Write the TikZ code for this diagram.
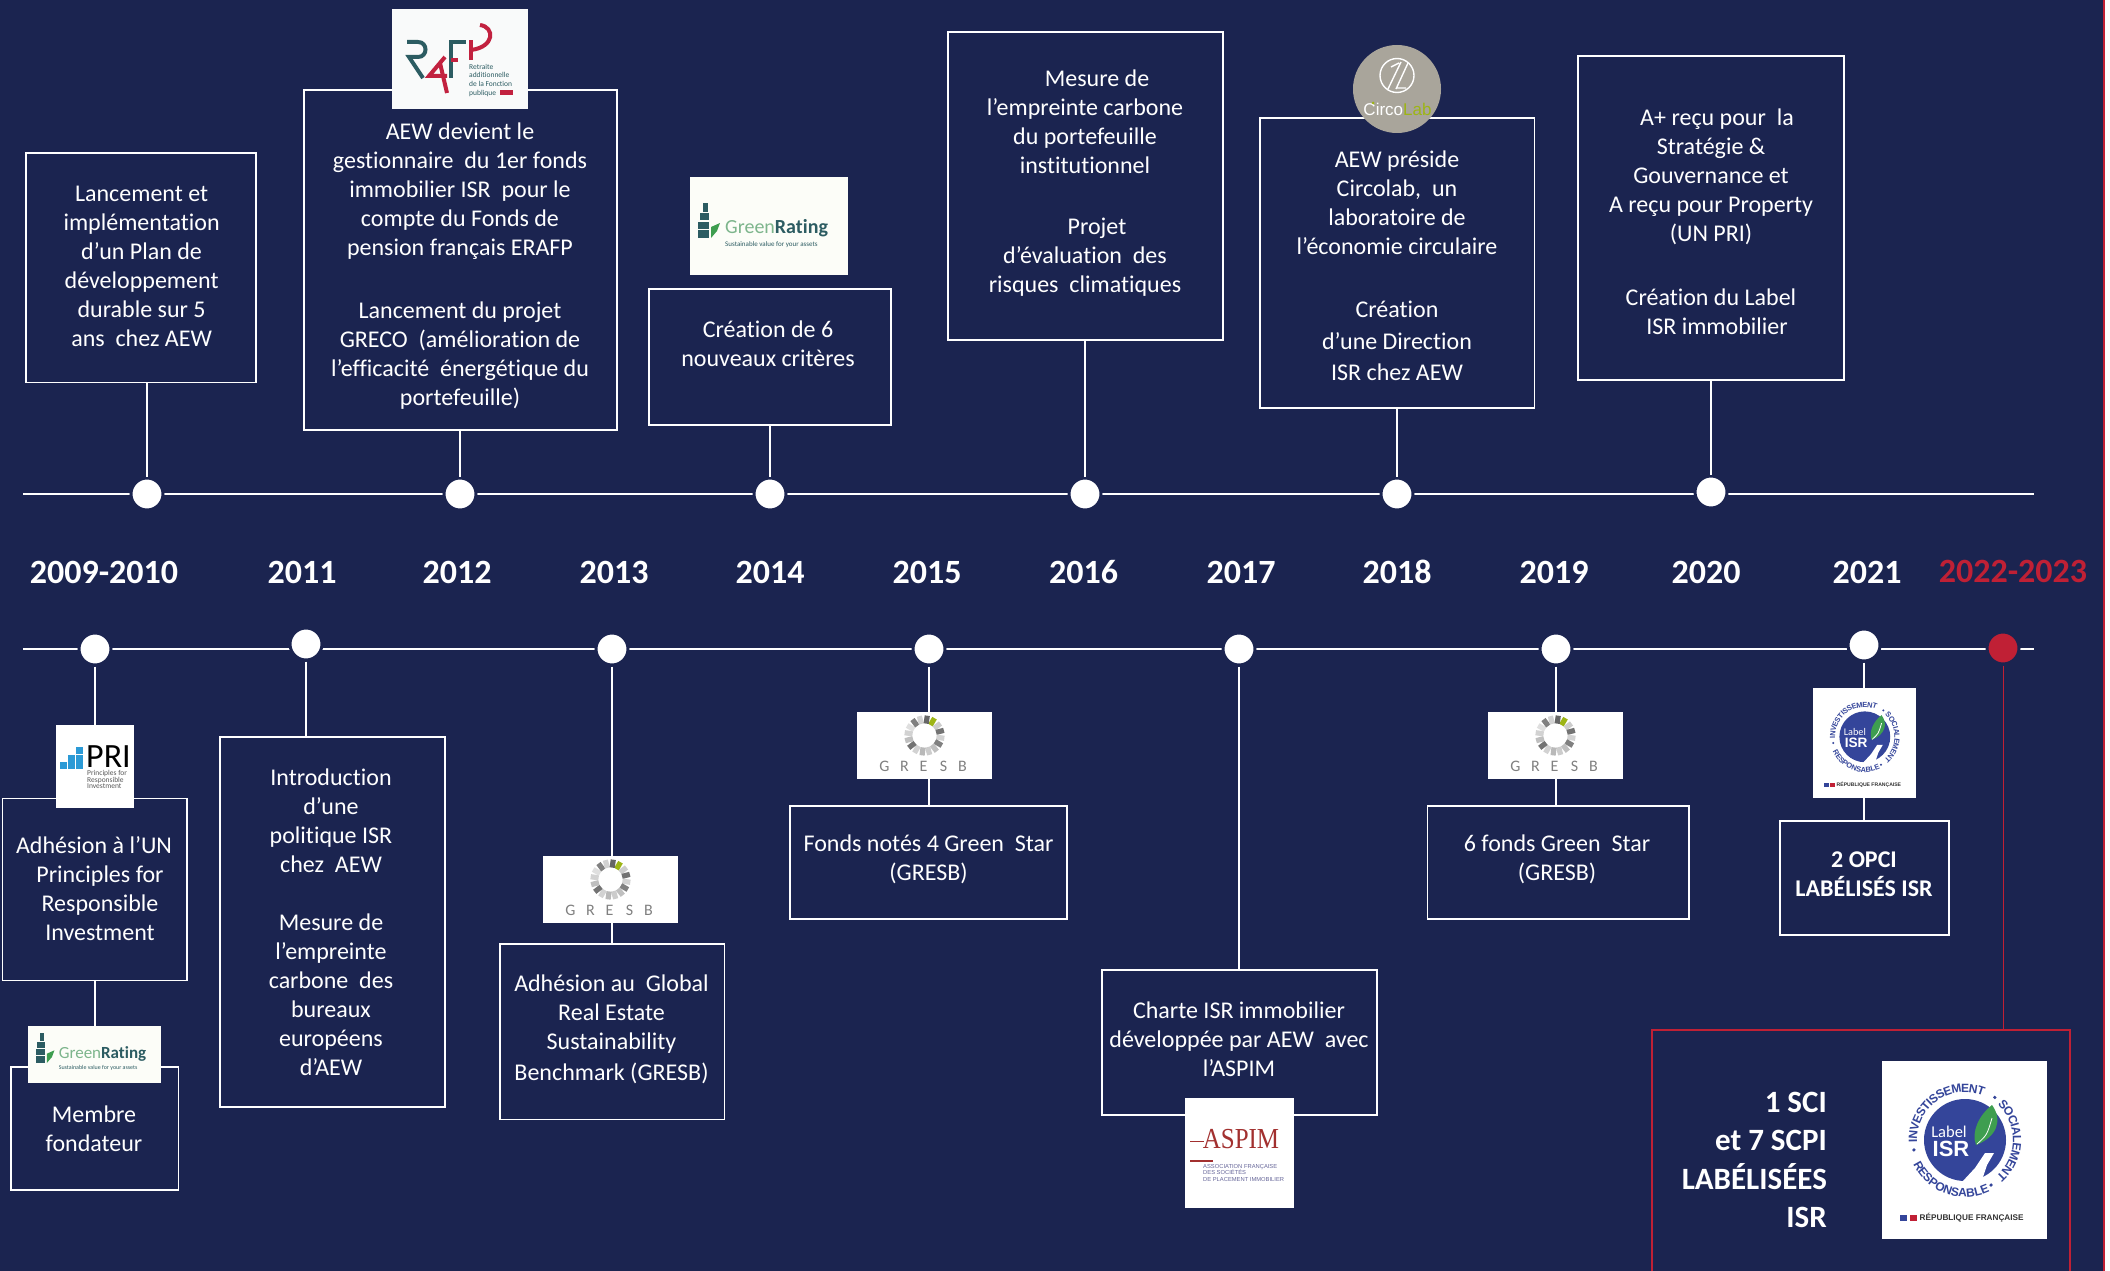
\documentclass[tikz,border=0pt]{standalone}
\usepackage{fontspec}
\setmainfont[Ligatures=CommonOff]{Carlito}
\newfontfamily\arialfont{Liberation Sans}
\newfontfamily\timesfont{Liberation Serif}
\definecolor{navy}{HTML}{1B2450}
\definecolor{crimson}{HTML}{C02035}
\definecolor{teal}{HTML}{2C5C62}
\definecolor{rafpred}{HTML}{C2213F}
\definecolor{leaf}{HTML}{7DB58C}
\definecolor{isrblue}{HTML}{34459A}
\definecolor{isrgreen}{HTML}{3E9E50}
\definecolor{lime}{HTML}{9DB516}
\definecolor{stone}{HTML}{A9A59B}
\definecolor{aspimred}{HTML}{A2302F}
\definecolor{priblue}{HTML}{2B9AD6}
\begin{document}
\begin{tikzpicture}[x=1pt,y=-1pt]
	\tikzset{infobox/.style = {draw=white,line width=1.5pt,inner sep=0pt}}
	\tikzset{boxtext/.style = {align=center,text=white,inner sep=0pt,font=\fontsize{24}{29}\selectfont}}
	\tikzset{boldtext/.style = {boxtext,font=\fontsize{24}{29}\selectfont\bfseries}}
	\tikzset{yearlabel/.style = {text=white,inner sep=0pt,font=\fontsize{34}{40}\selectfont\bfseries}}
	\tikzset{dot/.style = {shape=circle,fill=white,draw=navy,line width=3pt,inner sep=0pt,minimum size=32pt}}
	\tikzset{link/.style = {draw=white,line width=1.5pt}}
	\tikzset{logo/.style = {fill=white,inner sep=0pt}}
	\tikzset{isrletter/.style = {text=isrblue,inner sep=0pt,transform shape,font=\fontsize{12}{14}\selectfont\bfseries\arialfont}}
	\tikzset{gresb/.pic = {
		\foreach \ang/\shade in {60/lime,37/gray!40,15/black!55,-8/gray!35,-30/black!50,-52/gray!50,-75/gray!40,-97/gray!55,-120/gray!35,-142/black!55,-165/gray!50,172/gray!35,150/gray!25,127/black!50,105/gray!35,82/black!60}
			\draw[line width=5.2pt,\shade] ([shift={(0,-10)}]-\ang:12) -- ([shift={(0,-10)}]-\ang:20);
		\foreach \ch/\xp [count=\i] in {G/-40,R/-20,E/-1,S/19,B/38}
			\node[text=gray,inner sep=0pt,transform shape,font=\fontsize{16}{17}\selectfont] (gl\i) at (\xp,21) {\ch};
	}}
	\tikzset{greenrating/.pic = {
		\fill[teal] (-60,-22) rectangle (-55,-13);
		\fill[teal] (-63,-12) rectangle (-54,-5);
		\fill[teal] (-65,-3) rectangle (-54,4);
		\fill[teal] (-65,5) rectangle (-54,13);
		\fill[isrgreen] (-52,2) -- (-43,-2) -- (-46,6) -- (-52,13) -- cycle;
		\node[anchor=base west,inner sep=0pt,transform shape,font=\fontsize{20}{22}\selectfont] (grname) at (-38,8) {\textcolor{leaf}{Green}\textcolor{teal}{\bfseries Rating}};
		\node[anchor=base west,inner sep=0pt,transform shape,text=teal,font=\fontsize{7}{8}\selectfont] (grline) at (-38,21) {Sustainable value for your assets};
	}}
	\tikzset{isrlogo/.pic = {
		\begin{scope}[shift={(0.5,-10)}]
			\fill[isrblue] (0,0) circle (41);
			\fill[isrgreen] (27,-35) .. controls (38,-20) and (32,-3) .. (11,5) .. controls (6,-8) and (14,-25) .. (27,-35);
			\draw[white,line width=0.8pt] (12,4) .. controls (22,-5) .. (27,-22);
			\fill[white] (-3,42) -- (10,28) -- (20,13) -- (29,13) -- (22,25) -- (17,40) -- (8,43) -- cycle;
			\node[text=white,inner sep=0pt,transform shape,font=\fontsize{16.5}{18}\selectfont] (isrword) at (-16,-8) {Label};
			\node[text=white,inner sep=0pt,transform shape,font=\fontsize{22}{24}\selectfont\bfseries\arialfont] (isrname) at (-14,9) {ISR};
			\foreach \ch/\ang [count=\i] in {I/181.2,N/174.6,V/165.4,E/156.6,S/147.8,T/139.4,I/133.5,S/127.3,S/118.5,E/109.6,M/99.7,E/89.8,N/80.7,T/71.9}
				\node[isrletter,rotate=\ang-90] (la\i) at (-\ang:52) {\ch};
			\foreach \ch/\ang [count=\i] in {S/42.6,O/33.1,C/23.2,I/16.6,A/10,L/1.2,E/-7.3,M/-17.2,E/-27.1,N/-36.2,T/-45}
				\node[isrletter,rotate=\ang-90] (lb\i) at (-\ang:52) {\ch};
			\foreach \ch/\ang [count=\i] in {R/209.3,E/217.6,S/225.5,P/233.4,O/242,N/251,S/259.2,A/267.5,B/276,L/284,E/291.6}
				\node[isrletter,rotate=\ang+90] (lc\i) at (-\ang:53) {\ch};
			\foreach \ang in {55,-60,191}
				\fill[isrblue] (-\ang:52) circle (1.8);
		\end{scope}
		\fill[isrblue] (-65,65) rectangle (-58,71);
		\fill[crimson] (-55,65) rectangle (-48,71);
		\node[anchor=west,text=black!80,inner sep=0pt,transform shape,font=\fontsize{8.2}{10}\selectfont\bfseries\arialfont] (isrrep) at (-45,68) {RÉPUBLIQUE FRANÇAISE};
	}}

	\useasboundingbox (0,0) rectangle (2110,1271);
	\fill[navy] (0,0) rectangle (2103,1271);
	\fill[crimson] (2103,0) rectangle (2105,1271);
	\fill[white] (2105,0) rectangle (2110,1271);

	% the two time axes
	\coordinate (axisTopL) at (23,494);
	\coordinate (axisTopR) at (2034,494);
	\coordinate (axisLowL) at (23,649);
	\coordinate (axisLowR) at (2034,649);
	\draw[link] (axisTopL) -- (axisTopR);
	\draw[link] (axisLowL) -- (axisLowR);

	\foreach \yr/\xp/\yp in {2009/147/494,2012/460/494,2014/770/494,2016/1085/494,2018/1397/494,2020/1711/492}
		\node[dot] (top\yr) at (\xp,\yp) {};
	\foreach \yr/\xp/\yp in {2009/95/649,2011/306/644,2013/612/649,2015/929/649,2017/1239/649,2019/1556/649,2021/1864/645}
		\node[dot] (low\yr) at (\xp,\yp) {};
	\node[dot,fill=crimson] (low2022) at (2003,648) {};

	\foreach \yr/\xp in {2009-2010/104,2011/302,2012/457,2013/614,2014/770,2015/927,2016/1083.5,2017/1241,2018/1397,2019/1554,2020/1706,2021/1867}
		\node[yearlabel] (year\yr) at (\xp,572) {\yr};
	\node[yearlabel,text=crimson] (year2022) at (2013,571) {2022-2023};

	% boxes above the axis
	\node[infobox,minimum width=230pt,minimum height=229.5pt] (box2009) at (141,267.75) {};
	\node[infobox,minimum width=313pt,minimum height=340pt] (box2012) at (460.5,260) {};
	\node[infobox,minimum width=242pt,minimum height=136pt] (box2014) at (770,357) {};
	\node[infobox,minimum width=275pt,minimum height=308pt] (box2016) at (1085.5,186) {};
	\node[infobox,minimum width=274.5pt,minimum height=290pt] (box2018) at (1397,263) {};
	\node[infobox,minimum width=266pt,minimum height=324pt] (box2020) at (1711,218) {};

	% boxes below the axis
	\node[infobox,minimum width=184.5pt,minimum height=182pt] (boxPri) at (94.75,889.5) {};
	\node[infobox,minimum width=167.5pt,minimum height=123pt] (boxMember) at (94.75,1128.5) {};
	\node[infobox,minimum width=225pt,minimum height=370pt] (box2011) at (332.5,922) {};
	\node[infobox,minimum width=224.5pt,minimum height=175.5pt] (box2013) at (612,1031.5) {};
	\node[infobox,minimum width=277pt,minimum height=113pt] (box2015) at (928.5,862.5) {};
	\node[infobox,minimum width=275pt,minimum height=145pt] (box2017) at (1239.5,1042.5) {};
	\node[infobox,minimum width=261.5pt,minimum height=113pt] (box2019) at (1558,862.5) {};
	\node[infobox,minimum width=169pt,minimum height=114pt] (box2021) at (1864.5,878) {};
	\coordinate (boxRedA) at (1652,1271);
	\coordinate (boxRedB) at (1652,1030);
	\coordinate (boxRedC) at (2070,1030);
	\coordinate (boxRedD) at (2070,1271);
	\draw[crimson,line width=1.5pt] (boxRedA) -- (boxRedB) -- (boxRedC) -- (boxRedD);

	\foreach \yr in {2009,2012,2014,2016,2018,2020}
		\draw[link] (top\yr) -- (top\yr |- box\yr.south);
	\foreach \yr in {2011,2013,2015,2017,2019,2021}
		\draw[link] (low\yr) -- (low\yr |- box\yr.north);
	\draw[link] (low2009) -- (low2009 |- boxPri.north);
	\draw[link] (low2009 |- boxPri.south) -- (low2009 |- boxMember.north);
	\draw[crimson,line width=1pt] (low2022) -- (low2022 |- boxRedB);

	% texts
	\node[boxtext] (text2009) at (141.6,266.5) {Lancement et\\implémentation\\d’un Plan de\\développement\\durable sur 5\\ans~ chez AEW};
	\node[boxtext] (text2012) at (460,266) {AEW devient le\\gestionnaire~ du 1er fonds\\immobilier ISR~ pour le\\compte du Fonds de\\pension français ERAFP\\[34pt]Lancement du projet\\GRECO~ (amélioration de\\l’efficacité~ énergétique du\\portefeuille)};
	\node[boxtext] (text2014) at (768,344) {Création de 6\\nouveaux critères};
	\node[boxtext] (text2016) at (1085,183.5) {\hspace*{24pt}Mesure de\\l’empreinte carbone\\du portefeuille\\institutionnel\\[32pt]\hspace*{24pt}Projet\\d’évaluation~ des\\risques~ climatiques};
	\node[boxtext] (text2018) at (1397,266) {AEW préside\\Circolab,~ un\\laboratoire de\\l’économie circulaire\\[34pt]Création\\[3pt]d’une Direction\\[2pt]ISR chez AEW};
	\node[boxtext] (text2020) at (1711,222) {\hspace*{12pt}A+ reçu pour~ la\\Stratégie \&\\Gouvernance et\\A reçu pour Property\\(UN PRI)\\[35pt]Création du Label\\\hspace*{12pt}ISR immobilier};
	\node[boxtext] (textPri) at (94,889) {Adhésion à l’UN\\\hspace*{12pt}Principles for\\\hspace*{12pt}Responsible\\\hspace*{12pt}Investment};
	\node[boxtext] (textMember) at (94,1129) {Membre\\fondateur};
	\node[boxtext] (text2011) at (331,922) {Introduction\\d’une\\politique ISR\\chez~ AEW\\[29pt]Mesure de\\l’empreinte\\carbone~ des\\bureaux\\européens\\d’AEW};
	\node[boxtext] (text2013) at (611.5,1029.5) {Adhésion au~ Global\\Real Estate\\Sustainability\\[2pt]Benchmark (GRESB)};
	\node[boxtext] (text2015) at (928.6,859.5) {Fonds notés 4 Green~ Star\\(GRESB)};
	\node[boxtext] (text2017) at (1239,1039.5) {Charte ISR immobilier\\développée par AEW~ avec\\l’ASPIM};
	\node[boxtext] (text2019) at (1557,859.5) {6 fonds Green~ Star\\(GRESB)};
	\node[boldtext] (text2021) at (1864,874) {2 OPCI\\LABÉLISÉS ISR};
	\node[align=right,anchor=east,text=white,inner sep=0pt,font=\fontsize{31}{38.5}\selectfont\bfseries] (textRed) at (1827,1160) {1 SCI\\et 7 SCPI\\LABÉLISÉES\\ISR};

	% logos sit on top of the lines
	\node[logo,fill=white!97!teal,minimum width=136pt,minimum height=100pt] (logoRafp) at (460,59) {};
	\draw[teal,line width=4pt] (407,42) -- (418,42) .. controls (428,42) and (428,57) .. (418,57) -- (409,57) -- (423,78);
	\draw[rafpred,line width=4pt] (445,57) -- (429,76) -- (447,76);
	\draw[rafpred,line width=4pt] (440,63) -- (447,93);
	\draw[teal,line width=4pt] (451,78) -- (451,42) -- (466,42);
	\draw[rafpred,line width=4pt] (451,60) -- (458,60);
	\draw[rafpred,line width=4pt] (471,60) -- (471,40);
	\draw[rafpred,line width=4pt] (480,25) .. controls (495,27) and (495,47) .. (471,50);
	\node[anchor=north west,align=left,text=teal,inner sep=0pt,font=\fontsize{7.5}{8.6}\selectfont] (rafpText) at (469,64) {Retraite\\additionnelle\\de la Fonction\\publique};
	\fill[rafpred] (500,90) rectangle (513,95);

	\node[logo,fill=white!97!lime,minimum width=158pt,minimum height=98pt] (logoGreenA) at (769,226) {};
	\pic at (763,225) {greenrating};

	\node[shape=circle,fill=stone,inner sep=0pt,minimum size=88pt] (logoCirco) at (1397,89) {};
	\draw[white,line width=1.4pt] (1397,75.5) circle (17);
	\draw[white,line width=1.4pt] (1388,89) -- (1401,62) (1396,89) -- (1408,63) (1391,67) -- (1399,63) (1396,88) -- (1406,88);
	\node[inner sep=0pt,font=\fontsize{17}{19}\selectfont\arialfont] (circoName) at (1397.5,109) {\textcolor{white}{Circo}\textcolor{lime}{Lab}};
	\fill[lime] (1373,103) circle (1.5);

	\node[logo,minimum width=78pt,minimum height=83pt] (logoPri) at (95,766.5) {};
	\foreach \xp/\yp in {60/762,68/762,76/762,68/755,76/755,76/747}
		\fill[priblue] (\xp,\yp) rectangle +(7,7);
	\node[anchor=west,inner sep=0pt,font=\fontsize{34}{36}\selectfont] (priName) at (86,757) {PRI};
	\node[anchor=north west,align=left,text=black!65,inner sep=0pt,font=\fontsize{7.5}{6.6}\selectfont] (priText) at (87,770) {Principles for\\Responsible\\Investment};

	\node[logo,fill=white!97!lime,minimum width=133pt,minimum height=57pt] (logoGreenB) at (94.5,1054.5) {};
	\pic[scale=.85,transform shape] at (91,1052) {greenrating};

	\node[logo,minimum width=135pt,minimum height=67pt] (logoGresbA) at (610.5,889.5) {};
	\pic at (610.5,889.5) {gresb};
	\node[logo,minimum width=135pt,minimum height=67pt] (logoGresbB) at (924.5,745.5) {};
	\pic at (924.5,745.5) {gresb};
	\node[logo,minimum width=135pt,minimum height=67pt] (logoGresbC) at (1555.5,745.5) {};
	\pic at (1555.5,745.5) {gresb};

	\node[logo,minimum width=109pt,minimum height=110pt] (logoAspim) at (1239.5,1153) {};
	\draw[aspimred,line width=1pt] (1190,1141) -- (1204,1141);
	\draw[aspimred,line width=1.6pt] (1190,1161) -- (1213,1161);
	\node[text=aspimred,inner sep=0pt,font=\fontsize{29}{31}\selectfont\timesfont] (aspimName) at (1241,1139) {\scalebox{.86}[1]{ASPIM}};
	\node[anchor=north west,align=left,text=gray!80!blue,inner sep=0pt,font=\fontsize{5.8}{6.6}\selectfont\arialfont] (aspimText) at (1203,1164) {ASSOCIATION FRANÇAISE\\DES SOCIÉTÉS\\DE PLACEMENT IMMOBILIER};

	\node[logo,minimum width=103pt,minimum height=110.5pt] (logoIsrA) at (1864.5,743) {};
	\pic[scale=.62,transform shape] at (1864.5,743) {isrlogo};
	\node[logo,minimum width=165pt,minimum height=178pt] (logoIsrB) at (1964.5,1150) {};
	\pic at (1964.5,1150) {isrlogo};
\end{tikzpicture}
\end{document}
